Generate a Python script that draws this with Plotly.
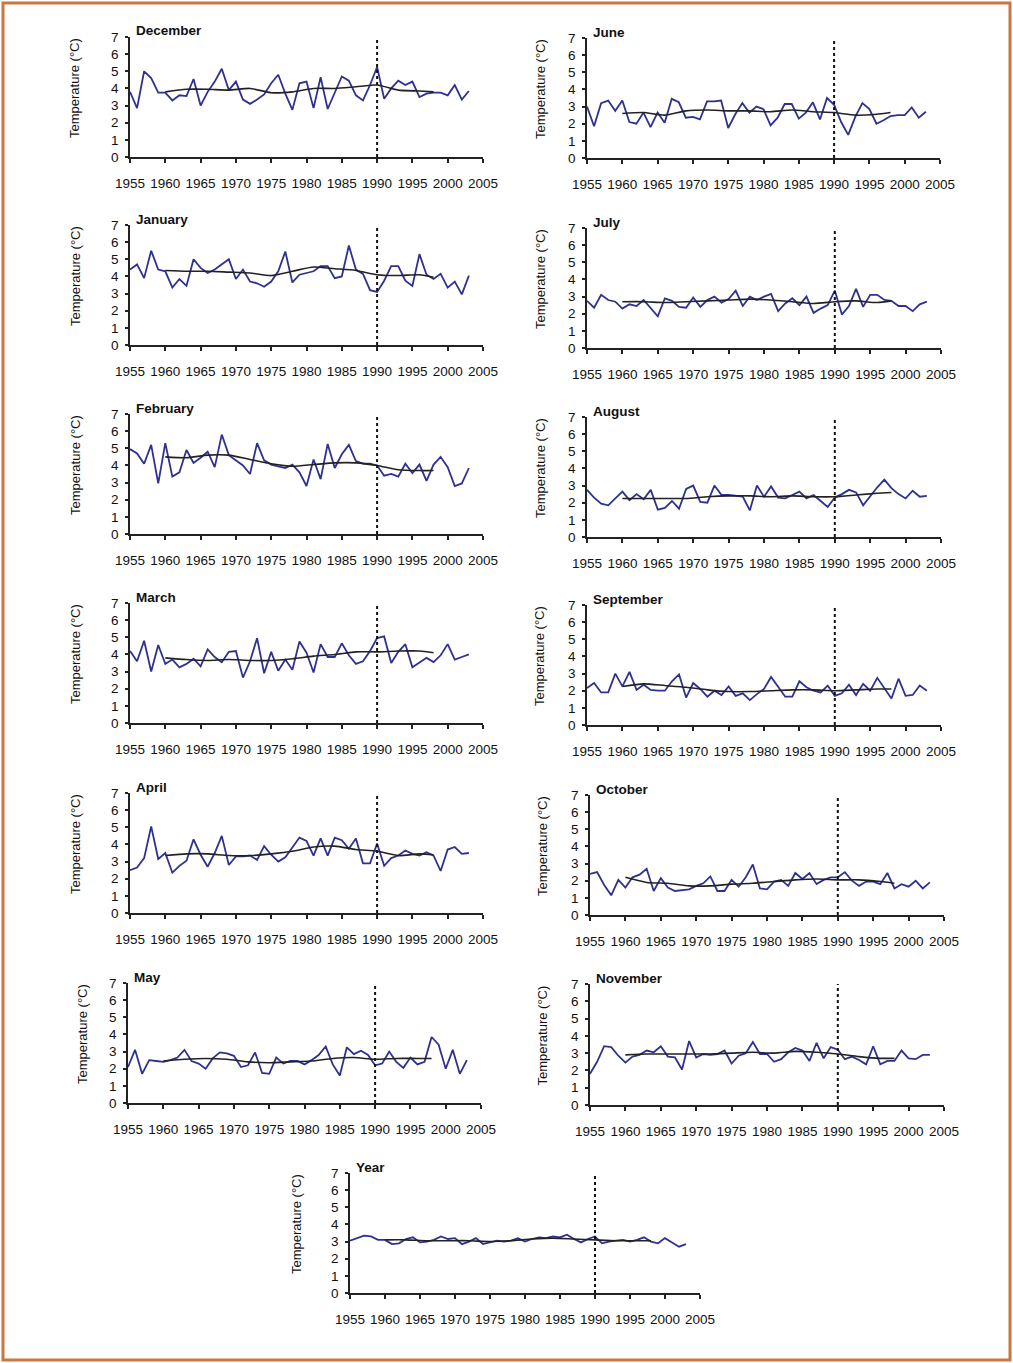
import plotly.graph_objects as go

# Monthly and annual mean temperatures, 1955-2003, with an 11-year smoothed curve
years = list(range(1955, 2004))
smooth_years = [1960, 1963, 1966, 1969, 1972, 1975, 1978, 1981, 1984, 1987, 1990, 1993, 1996, 1998]
x_ticks = list(range(1955, 2006, 5))
y_ticks = list(range(0, 8))

december = [3.8, 2.85, 5.0, 4.6, 3.75, 3.75, 3.3, 3.6, 3.55, 4.55, 3.0, 3.8, 4.4, 5.15, 3.9, 4.4,
            3.35, 3.1, 3.35, 3.65, 4.3, 4.8, 3.7, 2.75, 4.3, 4.4, 2.85, 4.65, 2.8, 3.8, 4.7, 4.45,
            3.6, 3.3, 4.2, 5.25, 3.4, 4.0, 4.45, 4.2, 4.4, 3.5, 3.7, 3.75, 3.75, 3.6, 4.2, 3.35, 3.85]
december_smooth = [3.8, 3.95, 3.95, 3.9, 4.0, 3.75, 3.8, 4.0, 4.0, 4.1, 4.2, 3.9, 3.85, 3.8]

january = [4.4, 4.7, 3.9, 5.5, 4.4, 4.3, 3.35, 3.85, 3.45, 5.0, 4.5, 4.2, 4.4, 4.7, 5.0, 3.85,
           4.4, 3.7, 3.6, 3.4, 3.7, 4.3, 5.45, 3.65, 4.1, 4.2, 4.3, 4.6, 4.6, 3.9, 4.0, 5.8,
           4.4, 4.15, 3.2, 3.1, 3.75, 4.6, 4.6, 3.75, 3.45, 5.3, 4.1, 3.85, 4.15, 3.35, 3.7, 2.95, 4.05]
january_smooth = [4.35, 4.3, 4.3, 4.25, 4.2, 4.05, 4.3, 4.55, 4.45, 4.35, 4.1, 4.05, 4.1, 3.95]

february = [4.95, 4.7, 4.1, 5.2, 2.95, 5.3, 3.35, 3.6, 4.9, 4.15, 4.45, 4.8, 3.9, 5.8, 4.6, 4.3,
            4.0, 3.5, 5.3, 4.3, 4.05, 3.95, 3.85, 4.05, 3.6, 2.8, 4.35, 3.2, 5.25, 3.85, 4.65, 5.2,
            4.25, 4.1, 4.1, 4.0, 3.4, 3.5, 3.35, 4.1, 3.55, 4.05, 3.1, 4.05, 4.5, 3.9, 2.8, 2.95, 3.85]
february_smooth = [4.5, 4.45, 4.6, 4.6, 4.35, 4.1, 3.95, 4.05, 4.15, 4.15, 4.0, 3.75, 3.7, 3.7]

march = [4.2, 3.6, 4.8, 3.0, 4.55, 3.45, 3.7, 3.25, 3.45, 3.75, 3.3, 4.3, 3.85, 3.55, 4.15, 4.2,
         2.65, 3.6, 4.95, 2.9, 4.15, 3.05, 3.7, 3.1, 4.75, 4.1, 2.95, 4.6, 3.85, 3.85, 4.65, 3.95,
         3.45, 3.6, 4.2, 4.95, 5.05, 3.5, 4.15, 4.6, 3.25, 3.5, 3.8, 3.55, 3.95, 4.6, 3.7, 3.85, 4.0]
march_smooth = [3.8, 3.7, 3.65, 3.7, 3.65, 3.65, 3.75, 3.9, 4.0, 4.15, 4.15, 4.2, 4.2, 4.1]

april = [2.5, 2.65, 3.2, 5.05, 3.15, 3.5, 2.35, 2.75, 3.05, 4.3, 3.4, 2.7, 3.5, 4.5, 2.8, 3.3,
         3.3, 3.35, 3.1, 3.9, 3.4, 3.0, 3.25, 3.85, 4.4, 4.2, 3.35, 4.35, 3.35, 4.4, 4.25, 3.75,
         4.35, 2.9, 2.9, 4.05, 2.75, 3.2, 3.35, 3.65, 3.45, 3.35, 3.55, 3.35, 2.45, 3.7, 3.85, 3.45, 3.5]
april_smooth = [3.35, 3.45, 3.45, 3.35, 3.35, 3.45, 3.6, 3.85, 3.9, 3.7, 3.6, 3.35, 3.45, 3.4]

may = [2.1, 3.1, 1.7, 2.5, 2.45, 2.4, 2.5, 2.65, 3.1, 2.45, 2.3, 2.0, 2.6, 2.95, 2.9, 2.75,
       2.1, 2.2, 2.95, 1.75, 1.7, 2.65, 2.3, 2.45, 2.45, 2.25, 2.5, 2.8, 3.3, 2.25, 1.6, 3.25,
       2.85, 3.05, 2.8, 2.2, 2.3, 3.0, 2.4, 2.05, 2.65, 2.25, 2.4, 3.85, 3.4, 2.0, 3.1, 1.7, 2.5]
may_smooth = [2.45, 2.55, 2.6, 2.55, 2.4, 2.35, 2.4, 2.45, 2.6, 2.65, 2.55, 2.6, 2.6, 2.6]

june = [3.0, 1.85, 3.2, 3.35, 2.75, 3.35, 2.1, 2.0, 2.65, 1.8, 2.65, 2.05, 3.45, 3.25, 2.35, 2.4,
        2.25, 3.3, 3.3, 3.35, 1.75, 2.55, 3.2, 2.65, 3.0, 2.85, 1.9, 2.35, 3.15, 3.15, 2.3, 2.65,
        3.25, 2.25, 3.5, 3.1, 2.1, 1.35, 2.4, 3.2, 2.85, 2.0, 2.2, 2.45, 2.5, 2.5, 2.95, 2.35, 2.7]
june_smooth = [2.6, 2.65, 2.5, 2.75, 2.8, 2.75, 2.75, 2.7, 2.8, 2.7, 2.65, 2.5, 2.55, 2.65]

july = [2.75, 2.35, 3.1, 2.8, 2.7, 2.3, 2.55, 2.45, 2.8, 2.3, 1.85, 2.9, 2.75, 2.4, 2.35, 2.95,
        2.4, 2.8, 3.0, 2.65, 2.85, 3.35, 2.45, 3.0, 2.8, 3.0, 3.15, 2.15, 2.6, 2.9, 2.5, 3.0,
        2.05, 2.3, 2.5, 3.35, 1.95, 2.45, 3.45, 2.4, 3.1, 3.1, 2.8, 2.75, 2.45, 2.45, 2.15, 2.55, 2.7]
july_smooth = [2.7, 2.7, 2.65, 2.7, 2.75, 2.8, 2.85, 2.8, 2.7, 2.6, 2.7, 2.75, 2.65, 2.75]

august = [2.75, 2.3, 1.95, 1.85, 2.25, 2.65, 2.15, 2.5, 2.2, 2.75, 1.6, 1.7, 2.1, 1.65, 2.8, 3.0,
          2.05, 2.0, 3.0, 2.45, 2.45, 2.4, 2.35, 1.55, 3.0, 2.35, 2.95, 2.3, 2.25, 2.45, 2.65, 2.25,
          2.45, 2.1, 1.75, 2.3, 2.5, 2.75, 2.6, 1.85, 2.4, 2.9, 3.35, 2.85, 2.5, 2.25, 2.7, 2.35, 2.4]
august_smooth = [2.25, 2.25, 2.25, 2.25, 2.35, 2.4, 2.4, 2.35, 2.4, 2.35, 2.35, 2.45, 2.55, 2.6]

september = [2.15, 2.45, 1.9, 1.9, 3.0, 2.25, 3.1, 2.05, 2.35, 2.05, 2.0, 2.0, 2.55, 2.95, 1.6, 2.45,
             2.1, 1.65, 2.0, 1.75, 2.25, 1.7, 1.85, 1.45, 1.8, 2.1, 2.8, 2.2, 1.65, 1.65, 2.55, 2.2,
             2.0, 1.9, 2.3, 1.7, 1.85, 2.35, 1.75, 2.4, 2.0, 2.75, 2.15, 1.55, 2.7, 1.7, 1.75, 2.3, 2.0]
september_smooth = [2.25, 2.4, 2.3, 2.2, 2.05, 1.95, 1.95, 2.0, 2.05, 2.05, 2.0, 2.05, 2.1, 2.1]

october = [2.4, 2.5, 1.75, 1.15, 2.05, 1.6, 2.2, 2.35, 2.7, 1.4, 2.15, 1.6, 1.4, 1.45, 1.5, 1.7,
           1.85, 2.25, 1.4, 1.4, 2.05, 1.65, 2.2, 2.95, 1.55, 1.5, 1.95, 2.05, 1.7, 2.45, 2.1, 2.45,
           1.8, 2.05, 2.2, 2.2, 2.5, 2.0, 1.7, 1.95, 1.95, 1.8, 2.45, 1.55, 1.8, 1.65, 2.0, 1.55, 1.9]
october_smooth = [2.2, 1.9, 1.85, 1.7, 1.7, 1.8, 1.85, 1.95, 2.05, 2.1, 2.05, 2.05, 1.95, 1.85]

november = [1.8, 2.5, 3.4, 3.35, 2.85, 2.45, 2.8, 2.9, 3.15, 3.05, 3.4, 2.8, 2.75, 2.05, 3.7, 2.75,
            2.95, 2.9, 2.95, 3.15, 2.4, 2.85, 3.0, 3.65, 2.95, 2.95, 2.5, 2.65, 3.05, 3.3, 3.15, 2.55,
            3.6, 2.7, 3.35, 3.2, 2.65, 2.8, 2.6, 2.35, 3.4, 2.35, 2.55, 2.55, 3.15, 2.7, 2.65, 2.9, 2.9]
november_smooth = [2.9, 2.95, 2.95, 2.95, 2.95, 3.0, 3.05, 3.0, 3.1, 3.05, 2.95, 2.8, 2.7, 2.7]

year_mean = [3.05, 3.2, 3.35, 3.3, 3.1, 3.1, 2.85, 2.9, 3.15, 3.25, 2.95, 3.0, 3.1, 3.3, 3.15, 3.2,
             2.85, 3.0, 3.2, 2.85, 2.95, 3.05, 3.0, 3.05, 3.2, 3.0, 3.15, 3.25, 3.2, 3.3, 3.25, 3.4,
             3.15, 2.95, 3.15, 3.3, 2.9, 3.0, 3.05, 3.1, 3.0, 3.1, 3.25, 3.0, 2.9, 3.2, 2.95, 2.7, 2.85]
year_mean_smooth = [3.1, 3.1, 3.05, 3.05, 3.05, 3.0, 3.05, 3.15, 3.2, 3.15, 3.1, 3.05, 3.05, 3.05]

W, H = 1013, 1363
BLUE = "#2e3190"
DARK = "#111111"
FONT = "Liberation Sans, Arial, sans-serif"

# (title, values, smoothed, plot-area left/right/top/bottom in pixels, y-title centre x)
panels = [
    ("December", december, december_smooth, 130, 483, 37, 157, 75),
    ("January", january, january_smooth, 130, 483, 225, 345, 75),
    ("February", february, february_smooth, 130, 483, 414, 534, 75),
    ("March", march, march_smooth, 130, 483, 603, 723, 75),
    ("April", april, april_smooth, 130, 483, 793, 913, 75),
    ("May", may, may_smooth, 128, 481, 983, 1103, 82),
    ("June", june, june_smooth, 587, 940, 38, 158, 540),
    ("July", july, july_smooth, 587, 941, 228, 348, 540),
    ("August", august, august_smooth, 587, 941, 417, 537, 540),
    ("September", september, september_smooth, 587, 941, 605, 725, 540),
    ("October", october, october_smooth, 590, 944, 795, 915, 542),
    ("November", november, november_smooth, 590, 944, 984, 1105, 542),
    ("Year", year_mean, year_mean_smooth, 350, 700, 1173, 1293, 296),
]

fig = go.Figure()
layout = dict(
    template="none",
    width=W, height=H, autosize=False,
    margin=dict(l=0, r=0, t=0, b=0, pad=0),
    paper_bgcolor="white", plot_bgcolor="white",
    showlegend=False, hovermode=False,
    font=dict(family=FONT, color=DARK),
)
annotations = []
shapes = []

for i, (name, vals, smooth, left, right, top, bottom, title_x) in enumerate(panels, start=1):
    sfx = "" if i == 1 else str(i)
    xref, yref = "x" + sfx, "y" + sfx

    fig.add_trace(go.Scatter(x=years, y=vals, mode="lines",
                             line=dict(color=BLUE, width=1.8),
                             xaxis=xref, yaxis=yref))
    fig.add_trace(go.Scatter(x=smooth_years, y=smooth, mode="lines",
                             line=dict(color="#222222", width=1.6, shape="spline", smoothing=0.6),
                             xaxis=xref, yaxis=yref))

    axis_common = dict(
        showgrid=False, zeroline=False, showline=True, automargin=False,
        linecolor="#222222", linewidth=1.8,
        ticks="outside", tickcolor="#222222", tickwidth=1.6,
        tickfont=dict(family=FONT, size=13.5, color=DARK),
        fixedrange=True,
    )
    layout["xaxis" + sfx] = dict(
        axis_common, domain=[left / W, right / W], range=[1955, 2005],
        tickmode="array", tickvals=x_ticks, ticklen=4,
        ticklabelstandoff=9, anchor=yref,
    )
    layout["yaxis" + sfx] = dict(
        axis_common, domain=[1 - bottom / H, 1 - top / H], range=[0, 7],
        tickmode="array", tickvals=y_ticks, ticklen=3,
        ticklabelstandoff=4, anchor=xref,
    )

    # 1990 reference line
    shapes.append(dict(type="line", xref=xref, yref=yref, x0=1990, x1=1990, y0=0, y1=7,
                       line=dict(color=DARK, width=2, dash="dot")))

    annotations.append(dict(text="<b>%s</b>" % name, xref="paper", yref="paper",
                            x=(left + 4) / W, y=1 - (top - 6) / H,
                            xanchor="left", yanchor="middle", showarrow=False,
                            font=dict(family=FONT, size=13.5, color=DARK)))
    annotations.append(dict(text="Temperature (°C)", xref="paper", yref="paper",
                            x=title_x / W, y=1 - ((top + bottom) / 2 - 9) / H,
                            xanchor="center", yanchor="middle", textangle=-90,
                            showarrow=False,
                            font=dict(family=FONT, size=13, color=DARK)))

# outer frame
shapes.append(dict(type="rect", xref="paper", yref="paper",
                   x0=3 / W, x1=1010 / W, y0=1 - 1360 / H, y1=1 - 3 / H,
                   line=dict(color="#c8783e", width=3)))

layout["annotations"] = annotations
layout["shapes"] = shapes
fig.update_layout(**layout)

fig.write_html("out.html")
